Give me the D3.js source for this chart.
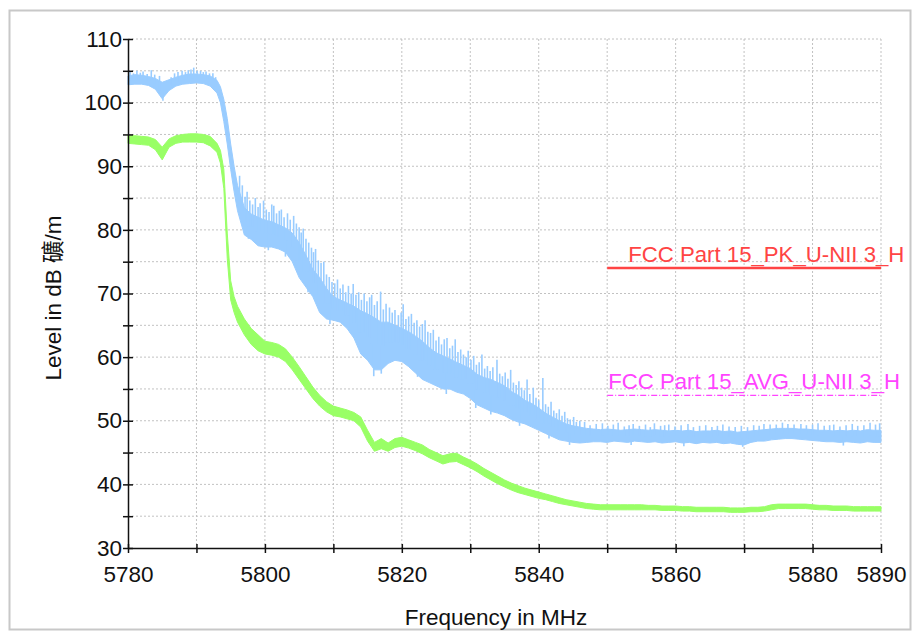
<!DOCTYPE html>
<html>
<head>
<meta charset="utf-8">
<script src="https://cdn.jsdelivr.net/npm/d3@7"></script>
<style>
  body { margin: 0; background: #fff; }
  svg { display: block; font-family: "Liberation Sans", Arial, "Noto Sans CJK SC", sans-serif; }
  .grid line { stroke: #c2c2c2; stroke-width: 1; stroke-dasharray: 2,2; }
  .axis path, .axis line { stroke: #111; stroke-width: 1.5; }
  .axis text { fill: #111; font-size: 22.5px; }
</style>
</head>
<body>
<svg id="chart" width="912" height="631"></svg>
<script>
// Sweep frequencies (MHz)
const freq = [5780,5781,5782,5783,5784,5785,5786,5787,5788,5789,5790,5791,5792,5793,5793.5,5794,5794.5,5795,5795.5,
  5796,5797,5798,5799,5800,5801,5802,5803,5804,5805,5806,5807,5808,5809,5810,5811,5812,5813,5814,5815,
  5816,5817,5818,5819,5820,5821,5822,5823,5824,5825,5826,5827,5828,5829,5830,5831,5832,5833,5834,5835,
  5836,5837,5838,5839,5840,5841,5842,5843,5844,5845,5846,5847,5848,5849,5850,5851,5852,5853,5854,5855,
  5856,5857,5858,5859,5860,5861,5862,5863,5864,5865,5866,5867,5868,5869,5870,5871,5872,5873,5874,5875,
  5876,5877,5878,5879,5880,5881,5882,5883,5884,5885,5886,5887,5888,5889,5890];

// Peak detector trace: lower / upper edge of the noise band (dBµV/m)
const peakLow = [102.8,102.9,102.9,102.7,102.1,100.6,101.9,102.6,102.9,103.0,103.1,103.0,102.6,101.5,100.0,97.0,93.5,89.5,86.0,
  83.0,79.2,78.5,77.5,77.3,77.3,77.0,76.5,75.0,72.5,71.0,69.5,67.0,66.0,65.8,65.5,64.5,63.0,60.5,59.5,
  58.0,58.0,59.0,59.5,59.3,58.5,57.5,56.5,56.0,55.5,55.0,55.0,54.5,54.2,53.5,52.5,52.0,51.5,51.2,50.8,
  50.2,49.8,49.5,49.0,48.5,48.0,47.5,47.0,46.8,46.6,46.5,46.6,46.7,46.7,46.6,46.8,46.7,46.6,46.8,46.7,
  46.6,46.7,46.5,46.6,46.7,46.5,46.6,46.4,46.6,46.5,46.6,46.4,46.5,46.3,46.2,46.6,46.8,46.8,47.0,47.1,
  47.2,47.2,47.1,47.0,46.9,46.8,46.7,46.7,46.6,46.7,46.6,46.5,46.7,46.6,46.6];
const peakHigh = [104.2,104.4,104.3,104.1,103.8,103.2,103.6,104.0,104.3,104.5,104.5,104.4,104.2,103.5,102.5,100.5,97.5,93.5,90.0,
  87.0,83.5,82.5,82.0,81.5,81.3,80.8,80.3,79.5,78.0,76.0,73.8,72.5,70.8,69.5,69.0,68.5,68.0,67.3,66.8,
  66.2,65.5,65.5,65.0,64.5,64.0,63.3,62.5,61.5,60.7,60.2,59.7,59.2,58.7,58.2,57.3,56.8,56.5,56.0,55.5,
  54.6,54.0,53.2,52.7,52.0,51.2,50.6,50.0,49.5,49.2,49.0,48.8,48.7,48.6,48.7,48.6,48.5,48.6,48.7,48.6,
  48.5,48.6,48.5,48.4,48.5,48.4,48.5,48.3,48.4,48.4,48.5,48.3,48.4,48.2,48.3,48.4,48.5,48.6,48.7,48.8,
  48.8,48.8,48.7,48.7,48.6,48.5,48.5,48.4,48.5,48.4,48.5,48.4,48.6,48.5,48.5];

// Peak-detector excursions above the band: [MHz, dBµV/m]
const peakSpikes = [
  [5780.3,104.9],[5780.8,104.6],[5781.3,105.0],[5781.8,104.7],[5782.2,104.9],[5782.8,104.5],[5783.4,105.1],
  [5783.9,104.4],[5784.6,104.2],[5786.3,104.0],[5786.8,104.6],[5787.3,104.8],[5787.9,105.0],[5788.4,104.8],
  [5788.8,105.1],[5789.2,105.2],[5789.6,105.5],[5790.1,105.0],[5790.6,105.0],[5791.0,104.8],[5791.4,104.9],
  [5791.9,104.6],[5792.4,104.6],[5792.8,104.0],
  [5796.3,88.5],[5796.7,87.0],[5797.1,85.2],[5797.4,86.0],[5797.8,84.6],[5798.2,84.0],[5798.6,85.0],
  [5799.0,83.6],[5799.3,84.2],[5799.8,84.6],[5800.2,83.2],[5800.6,82.8],[5801.0,84.0],[5801.3,83.8],
  [5801.7,82.6],[5802.1,83.0],[5802.4,83.2],[5802.8,82.0],[5803.3,82.6],[5803.7,81.6],[5804.2,82.2],
  [5804.6,81.0],[5805.0,80.4],[5805.3,79.6],[5805.6,80.2],[5806.0,78.6],[5806.4,78.0],[5806.8,77.2],
  [5807.1,76.5],[5807.4,77.0],[5807.8,75.2],[5808.2,74.8],[5808.6,75.0],[5809.0,73.0],[5809.4,72.6],
  [5809.8,71.8],[5810.2,71.6],[5810.6,72.2],[5811.0,70.8],[5811.4,71.4],[5811.8,70.2],[5812.2,71.2],
  [5812.6,70.0],[5812.9,71.5],[5813.3,69.8],[5813.7,70.2],[5814.1,69.0],[5814.5,70.0],[5814.9,68.8],
  [5815.3,69.4],[5815.6,69.8],[5816.0,68.2],[5816.4,68.8],[5816.9,70.3],[5817.3,67.5],[5817.7,68.4],
  [5818.2,67.8],[5818.6,67.0],[5819.0,67.4],[5819.5,66.6],[5819.9,67.0],[5820.2,68.3],[5820.6,66.0],
  [5821.0,66.4],[5821.4,66.8],[5821.8,65.4],[5822.2,65.8],[5822.6,64.8],[5823.0,65.2],[5823.4,65.8],
  [5823.8,64.0],[5824.2,63.8],[5824.6,64.3],[5825.0,62.6],[5825.4,63.2],[5825.8,62.0],[5826.2,62.8],
  [5826.6,63.0],[5827.0,61.4],[5827.4,61.8],[5827.8,62.8],[5828.2,60.8],[5828.6,61.2],[5829.0,60.4],
  [5829.4,60.0],[5829.7,61.0],[5830.1,59.6],[5830.5,60.2],[5830.9,58.8],[5831.3,59.2],[5831.7,60.4],
  [5832.1,58.2],[5832.5,58.6],[5832.9,57.8],[5833.3,58.4],[5833.9,59.6],[5834.3,57.4],[5834.7,57.0],
  [5835.1,57.6],[5835.5,56.6],[5835.9,58.0],[5836.3,56.0],[5836.7,55.6],[5837.1,56.2],[5837.5,55.2],
  [5837.9,54.8],[5838.3,56.5],[5838.7,54.2],[5839.2,55.2],[5839.6,53.6],[5840.0,53.2],[5840.6,56.7],
  [5841.0,52.6],[5841.4,52.2],[5841.8,53.0],[5842.2,51.6],[5842.6,51.2],[5843.0,51.8],[5843.4,50.8],
  [5843.8,51.4],[5844.2,50.4],[5844.6,50.2],[5845.1,50.6],[5845.5,49.8],[5846.0,50.0],
  [5846.7,49.8],[5847.5,49.3],[5848.4,49.5],[5849.3,49.6],[5850.1,49.2],[5850.9,49.4],[5851.6,49.7],
  [5852.5,49.1],[5853.2,49.3],[5853.8,49.5],[5854.7,49.2],[5855.6,49.4],[5856.3,49.0],[5856.9,49.6],
  [5857.8,49.2],[5858.4,49.3],[5859.0,49.4],[5859.9,49.1],[5860.8,49.3],[5861.8,49.5],[5862.6,49.0],
  [5863.5,49.2],[5864.4,49.3],[5865.3,49.0],[5866.1,49.2],[5866.9,49.4],[5867.8,49.1],[5868.7,49.0],
  [5869.6,49.2],[5870.5,49.0],[5871.4,49.3],[5872.2,49.2],[5872.9,49.5],[5873.8,49.4],[5874.7,49.4],
  [5875.6,49.7],[5876.4,49.5],[5877.3,49.4],[5878.3,49.5],[5879.1,49.3],[5880.0,49.4],[5880.8,49.6],
  [5881.7,49.2],[5882.5,49.3],[5883.1,49.4],[5884.0,49.1],[5884.9,49.3],[5885.8,49.5],[5886.6,49.2],
  [5887.5,49.3],[5888.4,49.7],[5889.2,49.4],[5889.8,49.6]];
// Excursions below the band
const peakDips = [[5785.1,100.3],[5797.6,78.6],[5800.5,76.8],[5803.0,75.8],[5806.3,70.2],[5809.5,65.2],
  [5812.5,63.8],[5815.9,57.0],[5817.0,57.4],[5822.3,56.9],[5826.5,54.2],[5830.8,52.0],[5833.0,51.0],
  [5837.2,49.2],[5841.5,47.2],[5844.5,46.2],[5853.5,46.2],[5861.2,46.0],[5869.8,45.9],[5884.5,46.1]];

// Average detector trace: lower / upper edge (dBµV/m)
const avgLow = [93.6,93.5,93.4,93.3,92.6,91.0,93.0,93.6,93.8,93.8,93.8,93.7,93.2,92.2,90.5,86.5,75.5,69.0,67.0,
  65.5,63.5,62.0,61.0,60.5,60.3,60.0,59.3,58.0,56.5,55.0,53.5,52.3,51.4,50.8,50.6,50.3,50.0,49.0,46.8,
  45.2,45.6,45.2,45.8,46.0,45.7,45.3,44.8,44.2,43.7,43.2,43.5,43.6,43.1,42.6,42.0,41.3,40.7,40.1,39.6,
  39.1,38.7,38.4,38.1,37.8,37.6,37.3,37.0,36.8,36.6,36.4,36.2,36.1,36.0,36.0,36.0,36.0,36.0,36.0,36.0,
  36.0,36.0,35.9,35.9,35.9,35.8,35.8,35.7,35.7,35.7,35.7,35.7,35.6,35.6,35.6,35.7,35.7,35.8,36.0,36.2,
  36.2,36.2,36.2,36.2,36.1,36.0,36.0,35.9,35.9,35.9,35.8,35.8,35.8,35.8,35.8];
const avgHigh = [94.9,94.8,94.7,94.6,94.2,93.0,94.3,94.8,95.0,95.1,95.1,95.0,94.7,93.6,92.5,89.5,79.5,72.0,69.5,
  68.0,66.0,64.5,63.5,62.5,62.3,62.0,61.3,60.0,58.5,56.9,55.3,54.0,53.0,52.3,52.0,51.7,51.3,50.6,48.5,
  46.6,47.2,46.5,47.2,47.4,47.0,46.6,46.2,45.5,45.0,44.5,44.8,44.9,44.3,43.8,43.2,42.5,41.9,41.3,40.7,
  40.2,39.8,39.4,39.1,38.8,38.5,38.2,37.9,37.6,37.4,37.2,37.0,36.9,36.8,36.8,36.8,36.8,36.8,36.8,36.8,
  36.7,36.7,36.6,36.6,36.6,36.5,36.5,36.4,36.4,36.4,36.4,36.4,36.3,36.3,36.3,36.4,36.4,36.5,36.8,36.9,
  36.9,36.9,36.9,36.9,36.8,36.7,36.7,36.6,36.6,36.6,36.5,36.5,36.5,36.5,36.5];

// Limit lines
const limitNames = ["FCC Part 15_PK_U-NII 3_H", "FCC Part 15_AVG_U-NII 3_H"];
const limitLevels = [74, 54];
const limitColors = ["#ff4444", "#ff44ff"];
const limitRange = [5850, 5890];

// Axis ticks
const xTicks = [5780,5790,5800,5810,5820,5830,5840,5850,5860,5870,5880,5890];
const xLabels = [5780,5800,5820,5840,5860,5880,5890];
const yTicks = [30,35,40,45,50,55,60,65,70,75,80,85,90,95,100,105,110];
const yLabels = [30,40,50,60,70,80,90,100,110];

const svg = d3.select("#chart");
const x = d3.scaleLinear().domain([5780, 5890]).range([128, 881]);
const y = d3.scaleLinear().domain([30, 110]).range([548, 39]);

// Frame
svg.append("rect").attr("x", 9.5).attr("y", 10.5).attr("width", 901).attr("height", 619)
  .attr("fill", "#fff").attr("stroke", "#c8c8c8").attr("stroke-width", 2);

// Grid
const grid = svg.append("g").attr("class", "grid");
grid.selectAll(".gx").data(xTicks.slice(1)).join("line")
  .attr("x1", d => x(d)).attr("x2", d => x(d)).attr("y1", y(110)).attr("y2", y(30));
grid.selectAll(".gy").data(yTicks.slice(1)).join("line")
  .attr("x1", x(5780)).attr("x2", x(5890)).attr("y1", d => y(d)).attr("y2", d => y(d));

// Traces
const rowsPk = freq.map((f, i) => ({ f, lo: peakLow[i], hi: peakHigh[i] }));
const rowsAv = freq.map((f, i) => ({ f, lo: avgLow[i], hi: avgHigh[i] }));
const band = d3.area().x(d => x(d.f)).y0(d => y(d.lo)).y1(d => y(d.hi));
const nearest = f => d3.minIndex(freq, v => Math.abs(v - f));
const mid = f => { const i = nearest(f); return y((peakLow[i] + peakHigh[i]) / 2); };

const blue = "#99ccff", green = "#99ff66";
svg.append("path").datum(rowsPk).attr("d", band).attr("fill", blue).attr("stroke", blue).attr("stroke-width", 1);
svg.append("g").selectAll("line").data(peakSpikes.concat(peakDips)).join("line")
  .attr("x1", d => x(d[0])).attr("x2", d => x(d[0]))
  .attr("y1", d => mid(d[0])).attr("y2", d => y(d[1]))
  .attr("stroke", blue).attr("stroke-width", 1.6);

svg.append("path").datum(rowsAv).attr("d", band).attr("fill", green).attr("stroke", green).attr("stroke-width", 1);

// Limit lines with labels
limitLevels.forEach((lv, i) => {
  const ln = svg.append("line")
    .attr("x1", x(limitRange[0])).attr("x2", x(limitRange[1]))
    .attr("y1", y(lv)).attr("y2", y(lv))
    .attr("stroke", limitColors[i]);
  if (i === 0) ln.attr("stroke-width", 2.5);
  else ln.attr("stroke-width", 1.3).attr("stroke-dasharray", "6,2,1,2");
  svg.append("text")
    .attr("x", x(limitRange[0]) + (i === 0 ? 21 : 1))
    .attr("y", y(lv) - 6)
    .attr("fill", limitColors[i])
    .attr("font-size", 22.2)
    .text(limitNames[i]);
});

// Axes
svg.append("g").attr("class", "axis").attr("transform", `translate(${x(5780)},0)`)
  .call(d3.axisLeft(y).tickValues(yTicks).tickSize(5).tickSizeOuter(0).tickPadding(1)
    .tickFormat(d => yLabels.includes(d) ? d : ""));
svg.append("g").attr("class", "axis").attr("transform", `translate(${x(5780)},0)`)
  .call(d3.axisRight(y).tickValues(yTicks).tickSize(5).tickSizeOuter(0).tickFormat(""))
  .select(".domain").remove();

svg.append("g").attr("class", "axis").attr("transform", `translate(0,${y(30)})`)
  .call(d3.axisBottom(x).tickValues(xTicks).tickSize(5).tickSizeOuter(0).tickPadding(13)
    .tickFormat(d => xLabels.includes(d) ? d : ""));
svg.append("g").attr("class", "axis").attr("transform", `translate(0,${y(30)})`)
  .call(d3.axisTop(x).tickValues(xTicks).tickSize(4).tickSizeOuter(0).tickFormat(""))
  .select(".domain").remove();

// Axis titles
svg.append("text").attr("x", 496).attr("y", 625).attr("text-anchor", "middle")
  .attr("font-size", 22.5).attr("fill", "#111").text("Frequency in MHz");
svg.append("text").attr("transform", "translate(61,298) rotate(-90)").attr("text-anchor", "middle")
  .attr("font-size", 22.5).attr("fill", "#111").text("Level in dB 礦/m");
</script>
</body>
</html>
